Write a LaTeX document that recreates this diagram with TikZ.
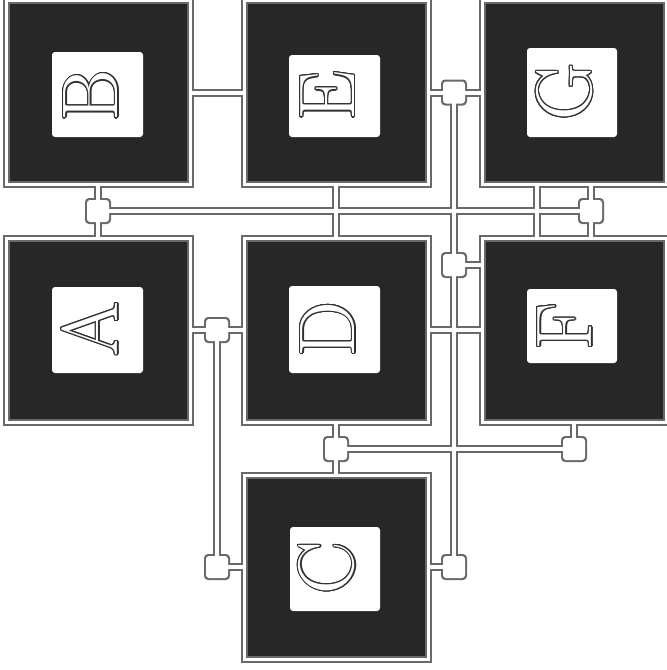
\documentclass[tikz,border=0pt]{standalone}
\usepackage{contour}
\contourlength{1.2pt}
\definecolor{casecol}{RGB}{105,105,105}
\definecolor{darkfill}{RGB}{39,39,39}
\definecolor{lettercol}{RGB}{50,50,50}
\newcommand\olet[1]{\contour{lettercol}{\textcolor{white}{#1}}}
\newcommand\netpaths{%
  \node[frm] (B) at (98,92.5) {};
  \node[frm] (E) at (336,92.5) {};
  \node[frm] (G) at (574,92.5) {};
  \node[frm] (A) at (98,330) {};
  \node[frm] (D) at (336,330) {};
  \node[frm] (F) at (574,330) {};
  \node[frm] (C) at (336,567.5) {};
  \coordinate (jEG) at (454,92.5);
  \coordinate (jBA) at (98,211);
  \coordinate (jGF) at (591,211);
  \coordinate (jF) at (454,265);
  \coordinate (jAD) at (217,330);
  \coordinate (jCL) at (217,567);
  \coordinate (jCR) at (454,567);
  \coordinate (jDC) at (336,449);
  \coordinate (jFB) at (574,449);
  \coordinate (gf) at (537,211);
  % connectors
  \draw[conn] (B.east) -- (E.west);
  \draw[conn] (E.east) -- (jEG) -- (G.west);
  \draw[conn] (jEG) -- (jF) -- (jCR);
  \draw[conn] (jF) -- (jF -| F.west);
  \draw[conn] (jCR) -- (jCR -| C.east);
  \draw[conn] (B.south) -- (jBA) -- (A.north);
  \draw[conn] (jBA) -- (jGF);
  \draw[conn] (G.south -| jGF) -- (jGF) -- (F.north -| jGF);
  \draw[conn] (G.south -| gf) -- (F.north -| gf);
  \draw[conn] (E.south) -- (D.north);
  \draw[conn] (A.east) -- (jAD) -- (D.west);
  \draw[conn] (jAD) -- (jCL) -- (jCL -| C.west);
  \draw[conn] (D.east) -- (D.east -| F.west);
  \draw[conn] (D.south) -- (jDC) -- (C.north);
  \draw[conn] (jDC) -- (jFB) -- (F.south);
  % junction boxes
  \node[jn] (JEG) at (jEG) {};
  \node[jn] (JBA) at (jBA) {};
  \node[jn] (JGF) at (jGF) {};
  \node[jn] (JF) at (jF) {};
  \node[jn] (JAD) at (jAD) {};
  \node[jn] (JCL) at (jCL) {};
  \node[jn] (JCR) at (jCR) {};
  \node[jn] (JDC) at (jDC) {};
  \node[jn] (JFB) at (jFB) {};
}
\begin{document}
\begin{tikzpicture}[x=1pt,y=-1pt,
  darkbox/.style={fill=darkfill,minimum size=177pt,inner sep=0pt,outer sep=0pt},
  innerbox/.style={fill=white,rounded corners=3pt,inner sep=0pt,outer sep=0pt},
  letter/.style={rotate=90,inner sep=0pt,font=\fontsize{79}{80}\selectfont}]
\useasboundingbox (0,0) rectangle (667,670);
% pass 1: casing
\begin{scope}[
  frm/.style={draw=casecol,line width=7pt,minimum size=184pt,inner sep=0pt,outer sep=0pt},
  conn/.style={draw=casecol,line width=8pt},
  jn/.style={fill=casecol,rounded corners=4pt,minimum size=26pt,inner sep=0pt,outer sep=0pt}]
\netpaths
\end{scope}
% pass 2: white cores
\begin{scope}[
  frm/.style={draw=white,line width=3pt,minimum size=184pt,inner sep=0pt,outer sep=0pt},
  conn/.style={draw=white,line width=4pt},
  jn/.style={fill=white,rounded corners=3pt,minimum size=22pt,inner sep=0pt,outer sep=0pt}]
\netpaths
\end{scope}
% pass 3: dark interiors, white panels, letters
\node[darkbox] (Bd) at (B) {};
\node[darkbox] (Ed) at (E) {};
\node[darkbox] (Gd) at (G) {};
\node[darkbox] (Ad) at (A) {};
\node[darkbox] (Dd) at (D) {};
\node[darkbox] (Fd) at (F) {};
\node[darkbox] (Cd) at (C) {};
\node[innerbox,minimum width=91pt,minimum height=85pt] (Bi) at (97.5,94.5) {};
\node[innerbox,minimum width=91pt,minimum height=82pt] (Ei) at (334.5,96) {};
\node[innerbox,minimum width=90pt,minimum height=89pt] (Gi) at (572,92.5) {};
\node[innerbox,minimum width=91pt,minimum height=86pt] (Ai) at (97.5,330) {};
\node[innerbox,minimum width=91pt,minimum height=87pt] (Di) at (334.5,329.5) {};
\node[innerbox,minimum width=90pt,minimum height=74pt] (Fi) at (572,326) {};
\node[innerbox,minimum width=90pt,minimum height=84pt] (Ci) at (335,569) {};
\node[letter] (Bl) at (91.5,96) {\olet{B}};
\node[letter] (El) at (328,96) {\olet{E}};
\node[letter] (Gl) at (565,92) {\olet{G}};
\node[letter] (Al) at (90.5,329) {\olet{A}};
\node[letter] (Dl) at (328.5,329.5) {\olet{D}};
\node[letter] (Fl) at (565.5,326.5) {\olet{F}};
\node[letter] (Cl) at (327.5,568) {\olet{C}};
\end{tikzpicture}
\end{document}
